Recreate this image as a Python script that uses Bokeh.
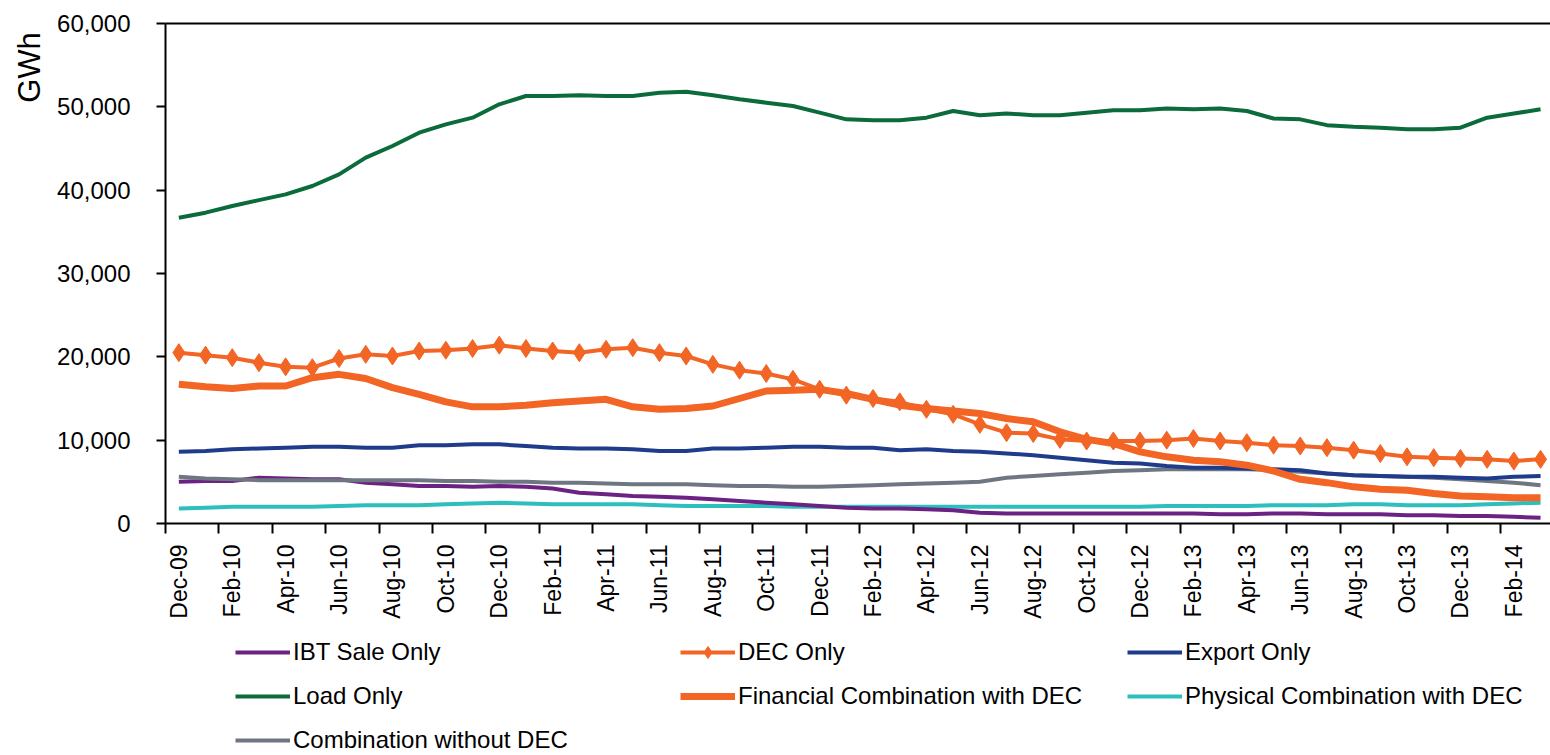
import math
from bokeh.plotting import figure
from bokeh.models import (FixedTicker, NumeralTickFormatter, Legend, LegendItem,
                          Label, Range1d, LinearAxis)
from bokeh.embed import file_html
from bokeh.resources import INLINE

months = ["Dec-09", "Jan-10", "Feb-10", "Mar-10", "Apr-10", "May-10", "Jun-10", "Jul-10",
          "Aug-10", "Sep-10", "Oct-10", "Nov-10", "Dec-10", "Jan-11", "Feb-11", "Mar-11",
          "Apr-11", "May-11", "Jun-11", "Jul-11", "Aug-11", "Sep-11", "Oct-11", "Nov-11",
          "Dec-11", "Jan-12", "Feb-12", "Mar-12", "Apr-12", "May-12", "Jun-12", "Jul-12",
          "Aug-12", "Sep-12", "Oct-12", "Nov-12", "Dec-12", "Jan-13", "Feb-13", "Mar-13",
          "Apr-13", "May-13", "Jun-13", "Jul-13", "Aug-13", "Sep-13", "Oct-13", "Nov-13",
          "Dec-13", "Jan-14", "Feb-14", "Mar-14"]

ibt_sale_only = [5000, 5100, 5100, 5500, 5400, 5300, 5300, 4900, 4700, 4500, 4500, 4400,
                 4500, 4400, 4200, 3700, 3500, 3300, 3200, 3100, 2900, 2700, 2500, 2300,
                 2100, 1900, 1800, 1800, 1700, 1600, 1300, 1200, 1200, 1200, 1200, 1200,
                 1200, 1200, 1200, 1100, 1100, 1200, 1200, 1100, 1100, 1100, 1000, 1000,
                 900, 900, 800, 700]

dec_only = [20500, 20200, 19900, 19300, 18800, 18700, 19800, 20300, 20100, 20700, 20800, 21000,
            21400, 21000, 20700, 20500, 20900, 21100, 20500, 20100, 19100, 18400, 18000, 17300,
            16100, 15400, 15000, 14600, 13700, 13100, 11900, 10900, 10800, 10100, 9900, 9900,
            9900, 10000, 10200, 9900, 9700, 9400, 9300, 9100, 8800, 8400, 8000, 7900,
            7800, 7700, 7500, 7700]

export_only = [8600, 8700, 8900, 9000, 9100, 9200, 9200, 9100, 9100, 9400, 9400, 9500,
               9500, 9300, 9100, 9000, 9000, 8900, 8700, 8700, 9000, 9000, 9100, 9200,
               9200, 9100, 9100, 8800, 8900, 8700, 8600, 8400, 8200, 7900, 7600, 7300,
               7200, 6900, 6700, 6700, 6600, 6500, 6400, 6000, 5800, 5700, 5600, 5600,
               5500, 5400, 5600, 5700]

load_only = [36700, 37300, 38100, 38800, 39500, 40500, 41900, 43900, 45300, 46900, 47900, 48700,
             50300, 51300, 51300, 51400, 51300, 51300, 51700, 51800, 51400, 50900, 50500, 50100,
             49300, 48500, 48400, 48400, 48700, 49500, 49000, 49200, 49000, 49000, 49300, 49600,
             49600, 49800, 49700, 49800, 49500, 48600, 48500, 47800, 47600, 47500, 47300, 47300,
             47500, 48700, 49200, 49700]

financial_comb_dec = [16700, 16400, 16200, 16500, 16500, 17500, 17900, 17400, 16300, 15500, 14600, 14000,
                      14000, 14200, 14500, 14700, 14900, 14000, 13700, 13800, 14100, 15000, 15900, 16000,
                      16100, 15600, 14900, 14200, 13800, 13500, 13200, 12600, 12200, 11000, 10100, 9600,
                      8600, 8000, 7600, 7400, 7000, 6300, 5300, 4900, 4400, 4100, 4000, 3600,
                      3300, 3200, 3100, 3100]

physical_comb_dec = [1800, 1900, 2000, 2000, 2000, 2000, 2100, 2200, 2200, 2200, 2300, 2400,
                     2500, 2400, 2300, 2300, 2300, 2300, 2200, 2100, 2100, 2100, 2100, 2000,
                     2000, 2000, 2000, 2000, 2000, 2000, 2000, 2000, 2000, 2000, 2000, 2000,
                     2000, 2100, 2100, 2100, 2100, 2200, 2200, 2200, 2300, 2300, 2200, 2200,
                     2200, 2300, 2400, 2500]

comb_without_dec = [5600, 5400, 5300, 5200, 5200, 5200, 5200, 5200, 5200, 5200, 5100, 5100,
                    5000, 5000, 4900, 4900, 4800, 4700, 4700, 4700, 4600, 4500, 4500, 4400,
                    4400, 4500, 4600, 4700, 4800, 4900, 5000, 5500, 5700, 5900, 6100, 6300,
                    6400, 6500, 6500, 6500, 6500, 6400, 6200, 6000, 5800, 5700, 5600, 5500,
                    5300, 5100, 4900, 4600]

y_ticks = [0, 10000, 20000, 30000, 40000, 50000, 60000]

x = list(range(len(months)))

FONT = "Liberation Sans"

# Frame covers the whole canvas; axes are drawn at fixed data locations.
W, H = 1550, 755
LEFT_PX, TOP_PX, ZERO_PX = 165, 23, 523          # pixel positions of plot edges
CAT_PX = 26.7                                     # pixels per month
Y_MAX = 60000
y_per_px = Y_MAX / (ZERO_PX - TOP_PX)
x0 = -0.5 - LEFT_PX / CAT_PX
x1 = -0.5 + (W - LEFT_PX) / CAT_PX
y0 = -(H - ZERO_PX) * y_per_px
y1 = Y_MAX + TOP_PX * y_per_px

p = figure(width=W, height=H, output_backend="svg", toolbar_location=None,
           x_range=Range1d(x0, x1), y_range=Range1d(y0, y1),
           min_border_left=0, min_border_right=0, min_border_top=0, min_border_bottom=0,
           x_axis_location=None, y_axis_location=None)
p.outline_line_color = None
p.xgrid.visible = False
p.ygrid.visible = False
p.background_fill_color = "white"
p.border_fill_color = "white"

# y axis
yax = LinearAxis(fixed_location=-0.5, bounds=(0, Y_MAX))
yax.ticker = FixedTicker(ticks=y_ticks)
yax.formatter = NumeralTickFormatter(format="0,0")
yax.major_label_text_font = FONT
yax.major_label_text_font_size = "24px"
yax.major_label_text_color = "black"
yax.major_tick_out = 9
yax.major_tick_in = 0
yax.major_tick_line_width = 2
yax.major_tick_line_color = "black"
yax.minor_tick_line_color = None
yax.axis_line_width = 2
yax.axis_line_color = "black"
yax.major_label_standoff = 26
p.add_layout(yax, "left")

# x axis
label_idx = list(range(0, len(months), 2))
xax = LinearAxis(fixed_location=0, bounds=(-0.5, x1))
xax.ticker = FixedTicker(ticks=label_idx, minor_ticks=[i - 0.5 for i in label_idx])
xax.major_label_overrides = {i: months[i] for i in label_idx}
xax.major_label_orientation = math.pi / 2
xax.major_label_text_font = FONT
xax.major_label_text_font_size = "23px"
xax.major_label_text_color = "black"
xax.major_tick_line_color = None
xax.major_tick_out = 10
xax.major_tick_in = 0
xax.minor_tick_line_color = "black"
xax.minor_tick_line_width = 2
xax.minor_tick_out = 10
xax.minor_tick_in = 0
xax.axis_line_width = 2
xax.axis_line_color = "black"
xax.major_label_standoff = 11
p.add_layout(xax, "below")

# top border line of the plot area (no ticks, no labels)
tax = LinearAxis(fixed_location=Y_MAX, bounds=(-0.5, x1))
tax.ticker = FixedTicker(ticks=[])
tax.major_tick_line_color = None
tax.minor_tick_line_color = None
tax.axis_line_width = 2
tax.axis_line_color = "black"
p.add_layout(tax, "above")

C_IBT = "#6C2283"
C_ORANGE = "#F26524"
C_EXPORT = "#1F3B8C"
C_LOAD = "#0B6B3A"
C_PHYS = "#2CBFBE"
C_GRAY = "#6E7781"

LW = 4
r_phys = p.line(x, physical_comb_dec, line_color=C_PHYS, line_width=LW)
r_ibt = p.line(x, ibt_sale_only, line_color=C_IBT, line_width=LW)
r_gray = p.line(x, comb_without_dec, line_color=C_GRAY, line_width=LW)
r_export = p.line(x, export_only, line_color=C_EXPORT, line_width=LW)
r_fin = p.line(x, financial_comb_dec, line_color=C_ORANGE, line_width=7)
r_dec_l = p.line(x, dec_only, line_color=C_ORANGE, line_width=LW)
r_dec_m = p.scatter(x, dec_only, marker="diamond", size=18, fill_color=C_ORANGE,
                    line_color=C_ORANGE)
r_load = p.line(x, load_only, line_color=C_LOAD, line_width=LW)

ROW_H, ROW_GAP = 30, 14


def make_legend(items, xoff):
    # top-aligned: legends with fewer rows are lifted by the missing rows
    missing = 3 - len(items)
    leg = Legend(items=items, location=(xoff, missing * (ROW_H + ROW_GAP)),
                 orientation="vertical",
                 glyph_width=55, glyph_height=ROW_H, label_standoff=3, spacing=ROW_GAP,
                 padding=0, margin=0, border_line_color=None, background_fill_alpha=0,
                 label_text_font=FONT, label_text_font_size="24px",
                 label_text_color="black", label_height=24)
    p.add_layout(leg)


make_legend([LegendItem(label="IBT Sale Only", renderers=[r_ibt]),
             LegendItem(label="Load Only", renderers=[r_load]),
             LegendItem(label="Combination without DEC", renderers=[r_gray])], 235)
make_legend([LegendItem(label="DEC Only", renderers=[r_dec_l, r_dec_m]),
             LegendItem(label="Financial Combination with DEC", renderers=[r_fin])], 680)
make_legend([LegendItem(label="Export Only", renderers=[r_export]),
             LegendItem(label="Physical Combination with DEC", renderers=[r_phys])], 1127)

p.add_layout(Label(x=29, y=H - 67, x_units="screen", y_units="screen", text="GWh",
                   angle=math.pi / 2, text_align="center", text_baseline="middle",
                   text_font=FONT, text_font_size="31px", text_color="black"))

open("out.html", "w").write(file_html(p, INLINE))
